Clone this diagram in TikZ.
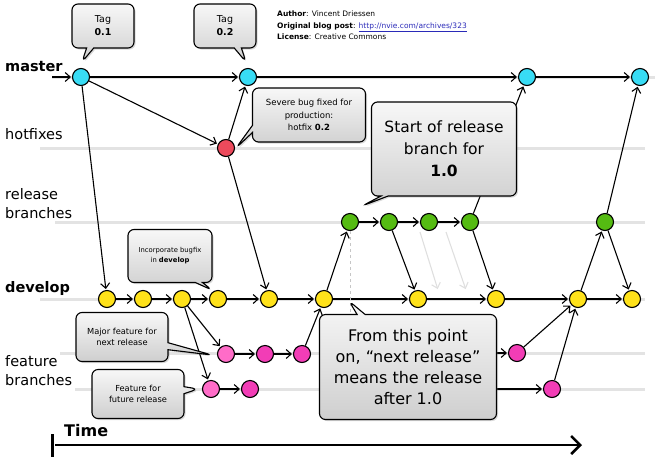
\documentclass[tikz,border=0pt]{standalone}
\usepackage{fontspec}
\setmainfont{DejaVu Sans}
\usetikzlibrary{shapes,arrows,arrows.meta,shadows}
\definecolor{mastercol}{HTML}{38DCF5}
\definecolor{hotfixcol}{HTML}{EC4A5C}
\definecolor{releasecol}{HTML}{55BB12}
\definecolor{developcol}{HTML}{FFE21A}
\definecolor{featurecol}{HTML}{F23DB6}
\definecolor{featurelight}{HTML}{FF6CC8}
\definecolor{linkcol}{HTML}{2A2AB8}

\begin{document}
\begin{tikzpicture}[x=1pt,y=-1pt]
\tikzset{commit/.style={circle,draw=black,line width=1.1pt,minimum size=17pt,inner sep=0pt}}
\tikzset{flow/.style={-{Straight Barb[length=5pt,width=9pt]},line width=1.1pt,shorten >=1pt}}
\tikzset{lane/.style={gray!22,line width=3pt}}
\tikzset{note/.style={rectangle callout,rounded corners=6pt,draw=black,line width=1.1pt,
  top color=gray!6,bottom color=gray!38,align=center,inner sep=2pt,
  drop shadow={opacity=.3,shadow xshift=1.5pt,shadow yshift=-1.5pt}}}
\tikzset{branchlbl/.style={anchor=west,align=left,inner sep=0pt,font=\fontsize{14.5}{19}\selectfont}}
\useasboundingbox (0,0) rectangle (658,464);

% lanes
\foreach \y/\a/\b in {77/52/655,148/40/645,222/55/645,299/40/645,353/60/645,389/75/645}
  \draw[lane] (\a,\y) -- (\b,\y);

\node[branchlbl,font=\fontsize{14.5}{19}\selectfont\bfseries] (lblmaster) at (5,67) {master};
\node[branchlbl] (lblhotfix) at (5,134) {hotfixes};
\node[branchlbl] (lblrelease) at (5,204) {release\\branches};
\node[branchlbl,font=\fontsize{14.5}{19}\selectfont\bfseries] (lbldevelop) at (5,288) {develop};
\node[branchlbl] (lblfeature) at (5,371) {feature\\branches};

\node[anchor=north west,align=left,inner sep=0pt,font=\fontsize{7.5}{11.5}\selectfont] (credits) at (277,11)
  {\textbf{Author}: Vincent Driessen\\
   \textbf{Original blog post}: \textcolor{linkcol}{\underline{http://nvie.com/archives/323}}\\
   \textbf{License}: Creative Commons};

% commits
\foreach \n/\x in {1/81,2/248,3/527,4/640}
  \node[commit,fill=mastercol] (m\n) at (\x,77) {};
\node[commit,fill=hotfixcol] (h1) at (226,148) {};
\foreach \n/\x in {1/350,2/389,3/429,4/470,5/605}
  \node[commit,fill=releasecol] (r\n) at (\x,222) {};
\foreach \n/\x in {1/107,2/143,3/182,4/218,5/269,6/324,7/418,8/496,9/578,10/632}
  \node[commit,fill=developcol] (d\n) at (\x,299) {};
\node[commit,fill=featurelight] (f1) at (226,354) {};
\node[commit,fill=featurecol] (f2) at (265,354) {};
\node[commit,fill=featurecol] (f3) at (302,354) {};
\node[commit,fill=featurecol] (f4) at (517,353) {};
\node[commit,fill=featurelight] (g1) at (211,389) {};
\node[commit,fill=featurecol] (g2) at (250,389) {};
\node[commit,fill=featurecol] (g3) at (552,389) {};

\coordinate (mstart) at (52,77);
\coordinate (fhidden) at (420,353);
\coordinate (ghidden) at (420,389);
\coordinate (ghostA) at (420,232);
\coordinate (ghostAend) at (438,290);
\coordinate (ghostB) at (446,232);
\coordinate (ghostBend) at (466,290);
\coordinate (dashend) at (350,330);

% connectors
\foreach \a/\b in {mstart/m1,m1/m2,m2/m3,m3/m4,m1/h1,h1/m2,h1/d5,m1/d1,
    d1/d2,d2/d3,d3/d4,d4/d5,d5/d6,d6/d7,d7/d8,d8/d9,d9/d10,
    d3/f1,d3/g1,f1/f2,f2/f3,f3/d6,fhidden/f4,f4/d9,g1/g2,ghidden/g3,g3/d9,
    d6/r1,r1/r2,r2/r3,r3/r4,r2/d7,r4/d8,r4/m3,d9/r5,r5/d10,r5/m4}
  \draw[flow] (\a) -- (\b);
\draw[flow,gray!25] (ghostA) -- (ghostAend);
\draw[flow,gray!25] (ghostB) -- (ghostBend);
\draw[dashed,gray!45,line width=.8pt] (r1) -- (dashend);

% notes
\node[note,minimum width=62pt,minimum height=44pt,callout absolute pointer={(82,62)},
  font=\fontsize{9.5}{13}\selectfont] (tagA) at (103,26) {Tag\\\textbf{0.1}};
\node[note,minimum width=62pt,minimum height=44pt,callout absolute pointer={(246,62)},
  font=\fontsize{9.5}{13}\selectfont] (tagB) at (225,26) {Tag\\\textbf{0.2}};
\node[note,minimum width=113pt,minimum height=54pt,callout absolute pointer={(236,148)},
  font=\fontsize{8.5}{12.5}\selectfont] (hotfixnote) at (309,115)
  {Severe bug fixed for\\production:\\hotfix \textbf{0.2}};
\node[note,minimum width=145pt,minimum height=94pt,callout absolute pointer={(362,206)},
  font=\fontsize{15.5}{22}\selectfont] (releasenote) at (444,149)
  {Start of release\\branch for\\\textbf{1.0}};
\node[note,minimum width=84pt,minimum height=53pt,callout absolute pointer={(212,290)},
  font=\fontsize{6.8}{10}\selectfont] (bugfixnote) at (170,256)
  {Incorporate bugfix\\in \textbf{develop}};
\node[note,minimum width=92pt,minimum height=49pt,callout absolute pointer={(212,355)},
  callout pointer width=7pt,font=\fontsize{8.3}{11.5}\selectfont] (majornote) at (122,337)
  {Major feature for\\next release};
\node[note,minimum width=92pt,minimum height=49pt,callout absolute pointer={(198,389)},
  callout pointer width=7pt,font=\fontsize{8.3}{11.5}\selectfont] (futurenote) at (138,394)
  {Feature for\\future release};
\node[note,minimum width=177pt,minimum height=105pt,callout absolute pointer={(349,301)},
  callout pointer width=8pt,font=\fontsize{16}{21}\selectfont] (pointnote) at (408,367)
  {From this point\\on, “next release”\\means the release\\after 1.0};

% time axis
\coordinate (tstart) at (55,445);
\coordinate (tend) at (582,445);
\node[anchor=west,inner sep=0pt,font=\fontsize{16}{19}\selectfont\bfseries] (timelbl) at (64,431) {Time};
\draw[line width=3pt] (52,434) -- (52,457);
\draw[-{Straight Barb[length=9pt,width=18pt]},line width=2.6pt] (tstart) -- (tend);
\end{tikzpicture}
\end{document}
